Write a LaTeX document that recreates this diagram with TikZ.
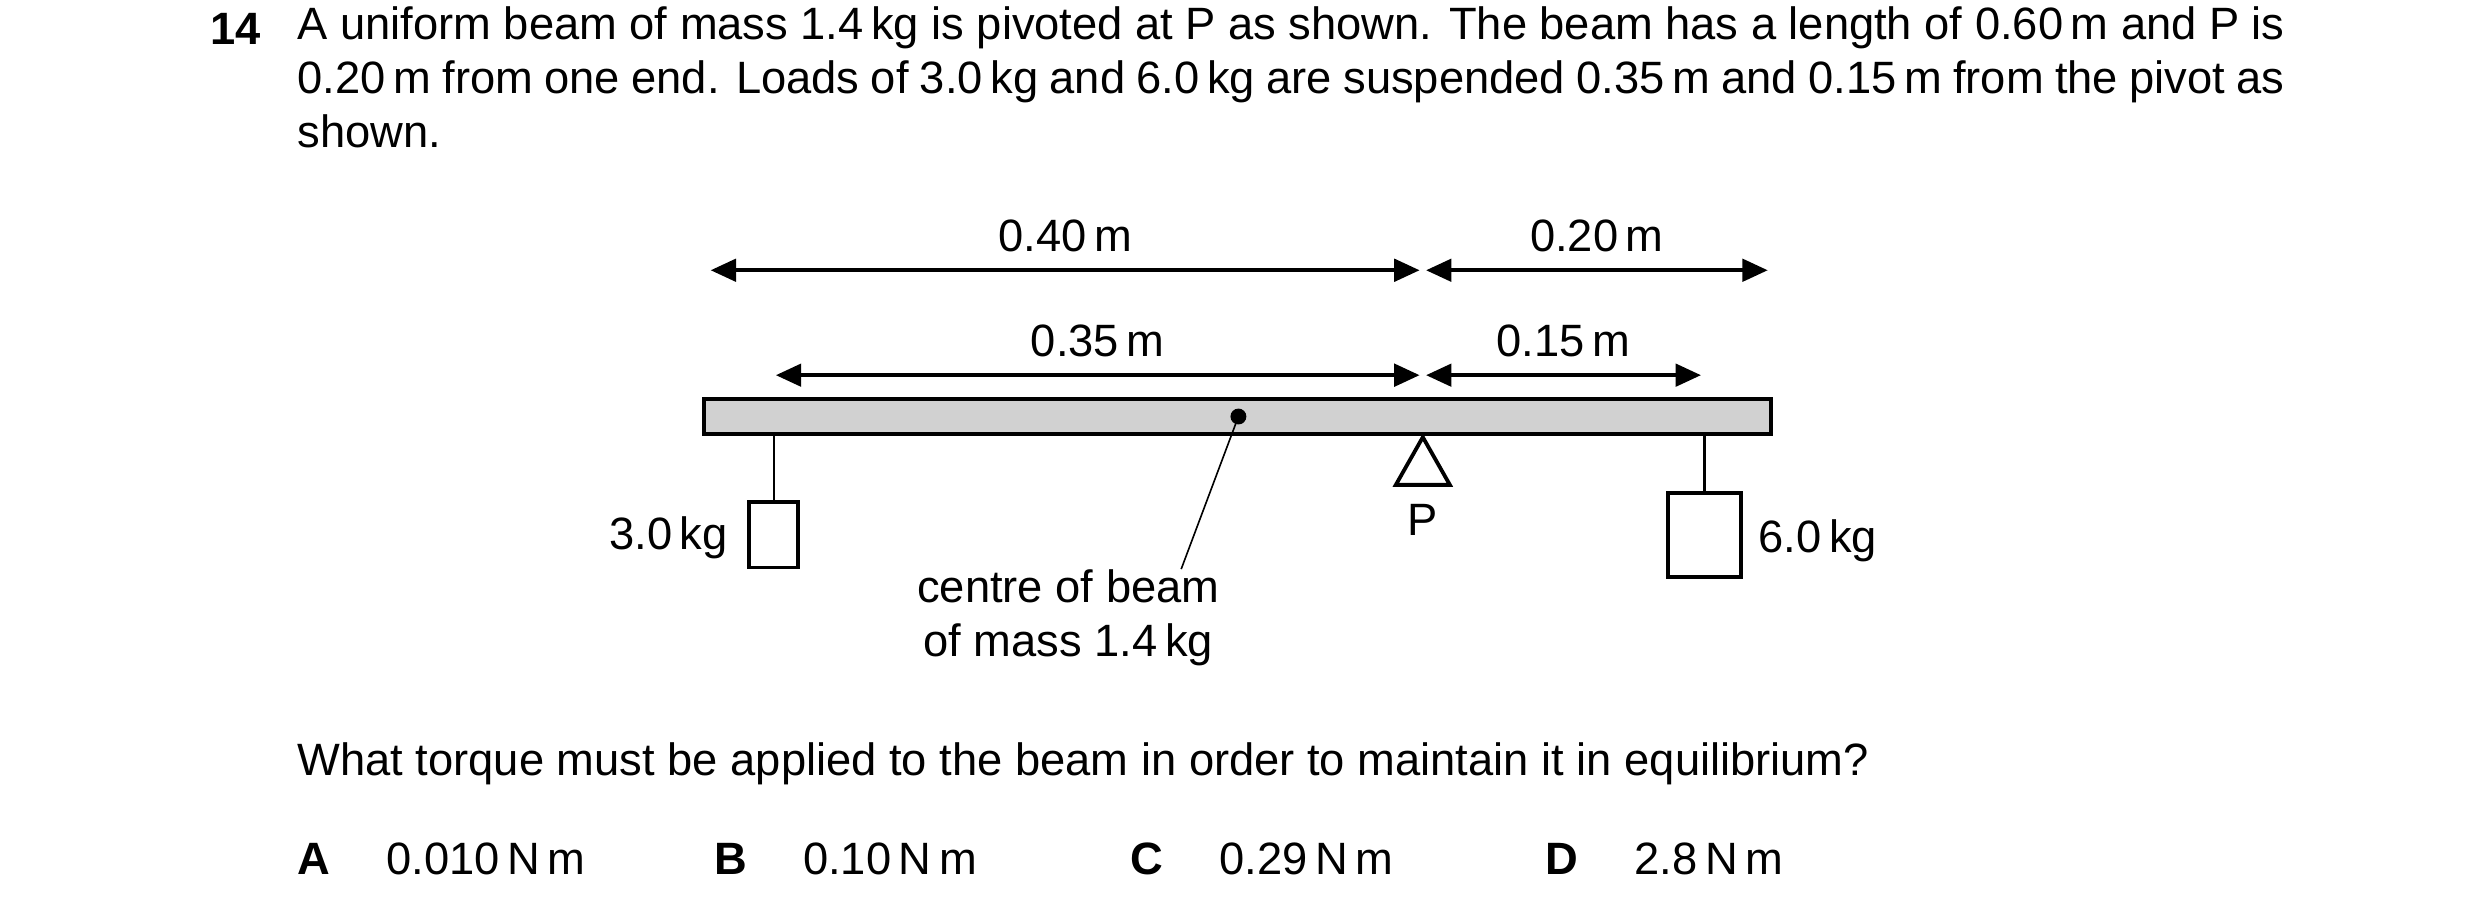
\documentclass[tikz,border=0pt]{standalone}
\usepackage{fontspec}
\setmainfont{Liberation Sans}
\usetikzlibrary{arrows.meta,positioning,calc}
\tikzset{
  txt/.style={inner sep=0pt,font=\fontsize{28.5}{34}\selectfont},
  dim/.style={line width=2.6pt,{Triangle[length=16pt,width=14pt]}-{Triangle[length=16pt,width=14pt]}},
  load/.style={draw,line width=2.4pt,fill=white}
}
\begin{document}
\begin{tikzpicture}[x=1pt,y=-1pt]
\useasboundingbox (0,0) rectangle (1560,572.4);
% question text
\node[txt,anchor=base west] (num) at (132,28) {\textbf{14}};
\node[txt,anchor=north west,text width=1250pt,align=justify] (stem) at (187,4)
  {A uniform beam of mass 1.4\,kg is pivoted at P as shown. The beam has a length of 0.60\,m and P is 0.20\,m from one end. Loads of 3.0\,kg and 6.0\,kg are suspended 0.35\,m and 0.15\,m from the pivot as shown.};
% beam and pivot
\draw[line width=2.6pt,fill=black!18] (443,251) rectangle (1114,273);
\coordinate (cg) at (779,262);
\fill (cg) circle (5);
\draw[line width=2.4pt] (895,275) -- (878,305) -- (912,305) -- cycle;
\node[txt] (P) at (895,327) {P};
% dimension arrows
\coordinate (L) at (447,170); \coordinate (M1) at (893,170);
\coordinate (M2) at (897,170); \coordinate (R) at (1112,170);
\draw[dim] (L) -- (M1) node[txt,midway,above=10pt] {0.40\,m};
\draw[dim] (M2) -- (R) node[txt,midway,above=10pt] {0.20\,m};
\coordinate (l35) at (488,236); \coordinate (m35) at (893,236);
\coordinate (m15) at (897,236); \coordinate (r15) at (1070,236);
\draw[dim] (l35) -- (m35) node[txt,midway,above=10pt] {0.35\,m};
\draw[dim] (m15) -- (r15) node[txt,midway,above=10pt] {0.15\,m};
% loads
\draw[line width=1.6pt] (487,273) -- (487,316);
\draw[load] (471,316) rectangle (502,357);
\node[txt,anchor=east] (m3) at (458,338) {3.0\,kg};
\draw[line width=1.6pt] (1072,273) -- (1072,310);
\draw[load] (1049,310) rectangle (1095,363);
\node[txt,anchor=west] (m6) at (1106,340) {6.0\,kg};
% centre label
\node[txt,align=center,anchor=north] (cl) at (672,358) {centre of beam\\of mass 1.4\,kg};
\draw[line width=1pt] (cg) -- (743,358);
% question
\node[txt,anchor=base west] (q) at (187,488) {What torque must be applied to the beam in order to maintain it in equilibrium?};
\foreach \x/\l/\v in {187/A/0.010, 449/B/0.10, 711/C/0.29, 972/D/2.8}{
  \node[txt,anchor=base west] at (\x,550) {\textbf{\l}};
  \node[txt,anchor=base west] at (\x+56,550) {\v\,N\,m};
}
\end{tikzpicture}
\end{document}
